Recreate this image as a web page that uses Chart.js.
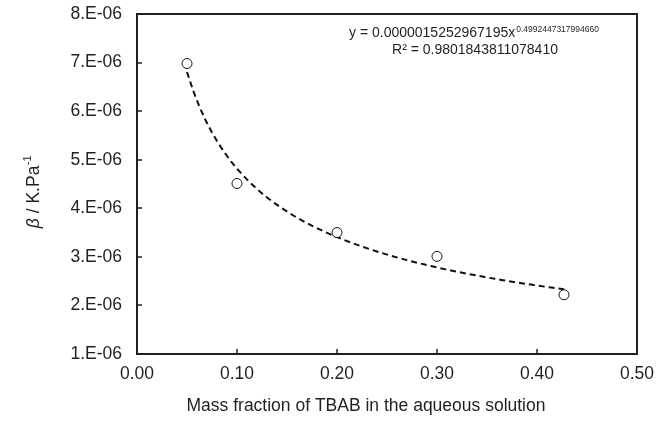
<!DOCTYPE html>
<html>
<head>
<meta charset="utf-8">
<script src="https://cdn.jsdelivr.net/npm/chart.js@4/dist/chart.umd.min.js"></script>
<style>
  html, body { margin: 0; padding: 0; background: #fff; }
  #wrap { width: 672px; height: 428px; }
</style>
</head>
<body>
<div id="wrap"><canvas id="betachart"></canvas></div>
<script>
// measured points (mass fraction of TBAB, beta)
var massFrac = [0.05, 0.10, 0.20, 0.30, 0.427];
var betaVals = [6.98e-6, 4.51e-6, 3.50e-6, 3.01e-6, 2.22e-6];

// power trendline as printed on the chart: y = a * x^-b
var fitA = 0.0000015252967195;
var fitB = 0.4992447317994660;
var eqText = "y = 0.0000015252967195x";
var eqExp = "0.4992447317994660";
var r2Text = "R\u00b2 = 0.9801843811078410";

var xTicks = [0, 0.1, 0.2, 0.3, 0.4, 0.5];
var yTicks = [1e-6, 2e-6, 3e-6, 4e-6, 5e-6, 6e-6, 7e-6, 8e-6];

var ink = "#231f20";
var font = "'Liberation Sans', Arial, sans-serif";

var trend = [];
for (var i = 0; i <= 60; i++) {
  var xv = massFrac[0] + (massFrac[massFrac.length - 1] - massFrac[0]) * i / 60;
  trend.push({ x: xv, y: fitA * Math.pow(xv, -fitB) });
}

var framePlugin = {
  id: "frame",
  afterDraw: function (chart) {
    var c = chart.ctx, a = chart.chartArea;
    var sx = chart.scales.x, sy = chart.scales.y;
    c.save();
    c.strokeStyle = ink;
    c.lineWidth = 2;
    c.strokeRect(a.left, a.top, a.right - a.left, a.bottom - a.top);
    c.lineWidth = 1.5;
    c.beginPath();
    xTicks.forEach(function (t) {
      var px = Math.round(sx.getPixelForValue(t));
      c.moveTo(px, a.bottom); c.lineTo(px, a.bottom - 5);
    });
    yTicks.forEach(function (t) {
      var py = Math.round(sy.getPixelForValue(t));
      c.moveTo(a.left, py); c.lineTo(a.left + 5, py);
    });
    c.stroke();

    c.fillStyle = ink;
    // x title
    c.font = "17.5px " + font;
    c.textAlign = "center";
    c.textBaseline = "alphabetic";
    c.fillText("Mass fraction of TBAB in the aqueous solution", 366, 411);

    // y title, rotated
    c.save();
    c.translate(39, 192);
    c.rotate(-Math.PI / 2);
    c.textAlign = "left";
    c.textBaseline = "alphabetic";
    var p1 = "\u03b2", p2 = " / K.Pa", p3 = "-1";
    c.font = "italic 17.5px " + font;
    var w1 = c.measureText(p1).width;
    c.font = "17.5px " + font;
    var w2 = c.measureText(p2).width;
    c.font = "11px " + font;
    var w3 = c.measureText(p3).width;
    var x0 = -(w1 + w2 + w3) / 2;
    c.font = "italic 17.5px " + font;
    c.fillText(p1, x0, 0);
    c.font = "17.5px " + font;
    c.fillText(p2, x0 + w1, 0);
    c.font = "11px " + font;
    c.fillText(p3, x0 + w1 + w2 + 0.5, -8);
    c.restore();

    // equation
    c.textAlign = "left";
    c.font = "14px " + font;
    var we = c.measureText(eqText).width;
    c.fillText(eqText, 349, 37);
    c.font = "8.5px " + font;
    c.fillText(eqExp, 349 + we + 1, 32);
    c.font = "14px " + font;
    c.textAlign = "center";
    c.fillText(r2Text, 475, 54);
    c.restore();
  }
};

new Chart(document.getElementById("betachart"), {
  type: "scatter",
  data: {
    datasets: [{
      label: "trend",
      data: trend,
      showLine: true,
      borderColor: "#111",
      borderWidth: 2,
      borderDash: [6, 4],
      pointRadius: 0,
      fill: false,
      order: 2
    }, {
      label: "beta",
      data: massFrac.map(function (x, i) { return { x: x, y: betaVals[i] }; }),
      pointRadius: 5,
      pointBackgroundColor: "#fff",
      pointBorderColor: "#111",
      pointBorderWidth: 1,
      order: 1
    }]
  },
  options: {
    responsive: true,
    maintainAspectRatio: false,
    animation: false,
    layout: { padding: { top: 14, right: 35, left: 0, bottom: 0 } },
    plugins: { legend: { display: false }, tooltip: { enabled: false } },
    scales: {
      x: {
        type: "linear",
        min: 0, max: 0.5,
        afterFit: function (s) { s.height = 74; s.paddingLeft = 0; s.paddingRight = 0; },
        afterBuildTicks: function (s) { s.ticks = xTicks.map(function (v) { return { value: v }; }); },
        grid: { display: false, drawTicks: false },
        border: { display: false },
        ticks: {
          padding: 10,
          color: ink,
          font: { family: font, size: 17.5 },
          maxRotation: 0,
          callback: function (v) { return Number(v).toFixed(2); }
        }
      },
      y: {
        type: "linear",
        min: 1e-6, max: 8e-6,
        afterFit: function (s) { s.width = 137; s.paddingTop = 0; s.paddingBottom = 0; },
        afterBuildTicks: function (s) { s.ticks = yTicks.map(function (v) { return { value: v }; }); },
        grid: { display: false, drawTicks: false },
        border: { display: false },
        ticks: {
          padding: 15,
          color: ink,
          font: { family: font, size: 17.5 },
          callback: function (v) { return Math.round(v * 1e6) + ".E-06"; }
        }
      }
    }
  },
  plugins: [framePlugin]
});
</script>
</body>
</html>
